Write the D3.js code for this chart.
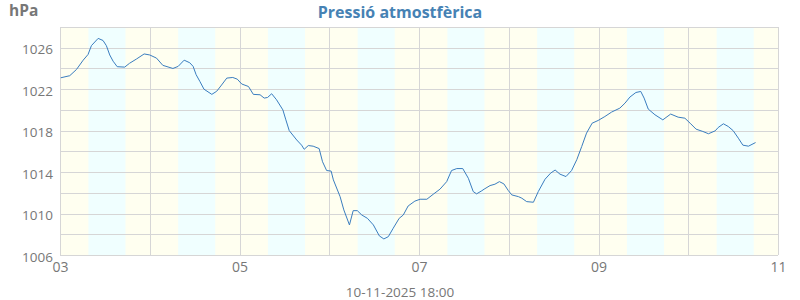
<!DOCTYPE html>
<html>
<head>
<meta charset="utf-8">
<script src="https://cdn.jsdelivr.net/npm/d3@7"></script>
<style>
  body { margin: 0; background: #fff; }
  svg text { font-family: "Open Sans", sans-serif; }
</style>
</head>
<body>
<svg id="chart"></svg>
<script>
// hours since 03-11-2025 00:00
const hours = [0.2, 2.6, 4.4, 6.2, 7.5, 8.4, 10.2, 11.5, 12.4, 13.3, 14.2, 15.3, 17.3, 18.6, 20.4, 22.5,
  24.0, 25.8, 27.5, 30.2, 31.6, 33.2, 34.7, 35.6, 36.4, 37.4, 38.5, 40.6, 41.9, 43.2, 44.6, 46.2, 47.4,
  48.6, 50.4, 51.7, 53.5, 54.6, 55.5, 56.6, 57.9, 59.6, 60.4, 61.3, 63.3, 64.6, 65.3, 66.4, 67.7, 69.3,
  70.2, 71.3, 72.5, 73.1, 74.9, 75.9, 77.4, 78.4, 79.5, 80.7, 82.2, 83.8, 85.4, 86.6, 87.8, 89.1, 90.7,
  91.8, 93.1, 94.9, 96.3, 98.1, 99.8, 101.6, 103.4, 104.7, 106.1, 107.7, 109.2, 110.5, 111.4, 112.8,
  113.4, 115.0, 116.3, 117.5, 118.7, 119.9, 120.8, 122.6, 123.5, 124.8, 126.6, 127.9, 129.7, 131.2,
  132.4, 133.7, 135.3, 136.8, 138.2, 139.5, 140.8, 142.3, 143.9, 145.7, 147.5, 149.7, 151.1, 152.4,
  154.0, 155.3, 156.2, 157.3, 159.1, 161.2, 163.3, 165.3, 167.1, 168.5, 170.1, 171.9, 173.4, 175.2,
  176.0, 177.4, 178.7, 180.0, 181.4, 182.6, 184.1, 186.0];

const pressure = [1023.1, 1023.3, 1023.9, 1024.8, 1025.35, 1026.2, 1026.9, 1026.7, 1026.2, 1025.3, 1024.7, 1024.17, 1024.13, 1024.5, 1024.9, 1025.4,
  1025.3, 1025.0, 1024.3, 1024.0, 1024.2, 1024.8, 1024.55, 1024.2, 1023.4, 1022.75, 1022.0, 1021.5, 1021.8, 1022.4, 1023.07, 1023.13, 1022.97,
  1022.5, 1022.26, 1021.5, 1021.46, 1021.14, 1021.2, 1021.56, 1020.98, 1020.0, 1019.04, 1018.0, 1017.1, 1016.6, 1016.2, 1016.56, 1016.5, 1016.27,
  1015.0, 1014.15, 1014.1, 1013.25, 1011.63, 1010.35, 1008.9, 1010.28, 1010.28, 1009.86, 1009.54, 1008.9, 1007.84, 1007.55, 1007.77, 1008.58, 1009.54,
  1009.86, 1010.73, 1011.2, 1011.38, 1011.38, 1011.86, 1012.35, 1013.08, 1014.15, 1014.34, 1014.34, 1013.4, 1012.12, 1011.9, 1012.2,
  1012.35, 1012.7, 1012.83, 1013.08, 1012.86, 1012.21, 1011.8, 1011.63, 1011.48, 1011.15, 1011.09, 1012.12, 1013.31, 1013.9,
  1014.2, 1013.8, 1013.57, 1014.15, 1015.2, 1016.46, 1017.76, 1018.72, 1018.98, 1019.36, 1019.79, 1020.17, 1020.66, 1021.24,
  1021.68, 1021.78, 1021.14, 1020.08, 1019.53, 1019.04, 1019.6, 1019.3, 1019.2, 1018.72, 1018.14, 1017.92, 1017.7, 1017.98,
  1018.3, 1018.66, 1018.4, 1018.0, 1017.27, 1016.6, 1016.5, 1016.85];

const dayTicks = [0, 48, 96, 144, 192];
const dayLabels = ["03", "05", "07", "09", "11"];
const yTicks = [1006, 1010, 1014, 1018, 1022, 1026];
const sunrise = 7.6, sunset = 17.5;   // daylight hours (local)
const numDays = 8;

const title = "Pressió atmostfèrica";
const unit = "hPa";
const footer = "10-11-2025 18:00";

const width = 800, height = 300;
const margin = {top: 27, right: 22, bottom: 45, left: 60};
const w = width - margin.left - margin.right;
const h = height - margin.top - margin.bottom;

const svg = d3.select("#chart").attr("width", width).attr("height", height);
const chart = svg.append("g").attr("transform", `translate(${margin.left},${margin.top})`);

const x = d3.scaleLinear().domain([0, 192]).range([0, w]);
const y = d3.scaleLinear().domain([1006, 1028]).range([h, 0]);

// night / day bands
const days = d3.range(numDays);
chart.append("rect").attr("width", w).attr("height", h).attr("fill", "#fffff0");
chart.selectAll(".day")
  .data(days)
  .join("rect")
    .attr("class", "day")
    .attr("x", d => x(d * 24 + sunrise))
    .attr("width", d => x(d * 24 + sunset) - x(d * 24 + sunrise))
    .attr("y", 0)
    .attr("height", h)
    .attr("fill", "#f0ffff");

// grid
chart.selectAll(".hgrid")
  .data(d3.range(1006, 1028.1, 2))
  .join("line")
    .attr("class", "hgrid")
    .attr("x1", 0).attr("x2", w)
    .attr("y1", d => Math.round(y(d)) + 0.5).attr("y2", d => Math.round(y(d)) + 0.5)
    .attr("stroke", "#d6d6d6");

chart.selectAll(".vgrid")
  .data(d3.range(0, 193, 24))
  .join("line")
    .attr("class", "vgrid")
    .attr("y1", 0).attr("y2", h)
    .attr("x1", d => Math.round(x(d)) + 0.5).attr("x2", d => Math.round(x(d)) + 0.5)
    .attr("stroke", "#d6d6d6");

// axes
const xAxis = d3.axisBottom(x).tickValues(dayTicks).tickFormat((d, i) => dayLabels[i]).tickSize(0).tickPadding(7);
const yAxis = d3.axisLeft(y).tickValues(yTicks).tickFormat(d3.format("d")).tickSize(0).tickPadding(7);

const xg = chart.append("g").attr("transform", `translate(0,${h})`).call(xAxis);
const yg = chart.append("g").call(yAxis);
[xg, yg].forEach(g => {
  g.select(".domain").remove();
  g.selectAll("text").attr("fill", "#777");
});
xg.selectAll("text").attr("font-size", "14px");
yg.selectAll("text").attr("font-size", "13.5px").attr("dy", "0.45em");

// line
const data = hours.map((t, i) => ({t: t, v: pressure[i]}));
chart.append("path")
  .datum(data)
  .attr("fill", "none")
  .attr("stroke", "#3a7dbf")
  .attr("stroke-width", 1)
  .attr("d", d3.line().x(d => x(d.t)).y(d => y(d.v)));

// texts
svg.append("text")
  .attr("x", 400).attr("y", 18)
  .attr("text-anchor", "middle")
  .attr("font-size", "16px").attr("font-weight", "bold")
  .attr("fill", "#4682b4")
  .text(title);

svg.append("text")
  .attr("x", 9).attr("y", 16)
  .attr("font-size", "15.5px").attr("font-weight", "bold")
  .attr("fill", "#777")
  .text(unit);

svg.append("text")
  .attr("x", 400).attr("y", 297)
  .attr("text-anchor", "middle")
  .attr("font-size", "13.5px")
  .attr("fill", "#777")
  .text(footer);
</script>
</body>
</html>
